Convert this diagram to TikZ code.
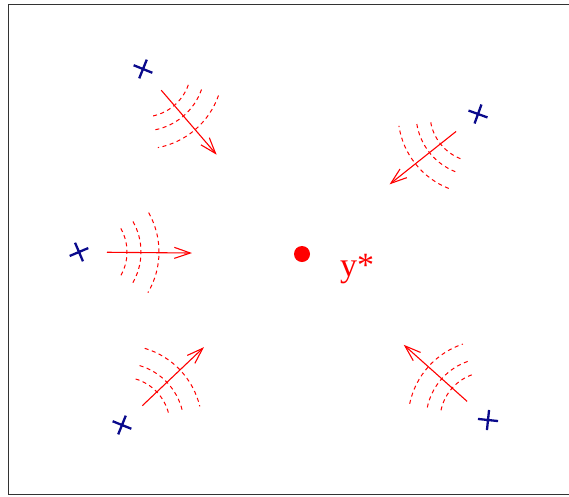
\documentclass[tikz,border=0pt]{standalone}
\usepackage{fontspec}
\setmainfont{Liberation Serif}
\usetikzlibrary{calc,arrows.meta,shapes.misc}
\definecolor{marino}{HTML}{0A0A8C}
\definecolor{rojo}{HTML}{FF0000}

\begin{document}
\begin{tikzpicture}[x=1pt,y=-1pt,
      sensor/.style={cross out,draw=marino,line width=2.3pt,
                     minimum size=12pt,inner sep=0pt},
      flecha/.style={-{Straight Barb[length=16pt,width=11pt]},draw=rojo,line width=1.1pt},
      onda/.style={draw=rojo,line width=1pt,dash pattern=on 4pt off 3.5pt}]
    \useasboundingbox (0,0) rectangle (569,496);
    \draw[black!80,line width=0.8pt] (8,4) rectangle (569,494);
    % target point
    \node[circle,fill=rojo,minimum size=16pt,inner sep=0pt] (ystar) at (302,254) {};
    \node[anchor=base west,inner sep=0pt,text=rojo,font=\fontsize{34}{40}\selectfont] (ylab) at (340,276) {y*};
    % sensors
    \node[sensor,rotate=23] (s1) at (143,69) {};
    \node[sensor,rotate=25] (s2) at (478,114) {};
    \node[sensor,rotate=68] (s3) at (79,252) {};
    \node[sensor,rotate=23] (s4) at (122,425) {};
    \node[sensor,rotate=39] (s5) at (488,420) {};
    % arrows and wave fronts
    \foreach \s/\a in {s1/49.3,s2/141.5,s3/0.5,s4/-43.5,s5/221.7}{
      \draw[flecha] ($(\s)!28pt!(ystar)$) -- ($(\s)!113pt!(ystar)$);
      \foreach \r in {48,62,80}
        \draw[onda] ($(\s)+(\a-30:\r)$) arc[start angle=\a-30,end angle=\a+30,radius=\r];
    }
  \end{tikzpicture}
\end{document}
